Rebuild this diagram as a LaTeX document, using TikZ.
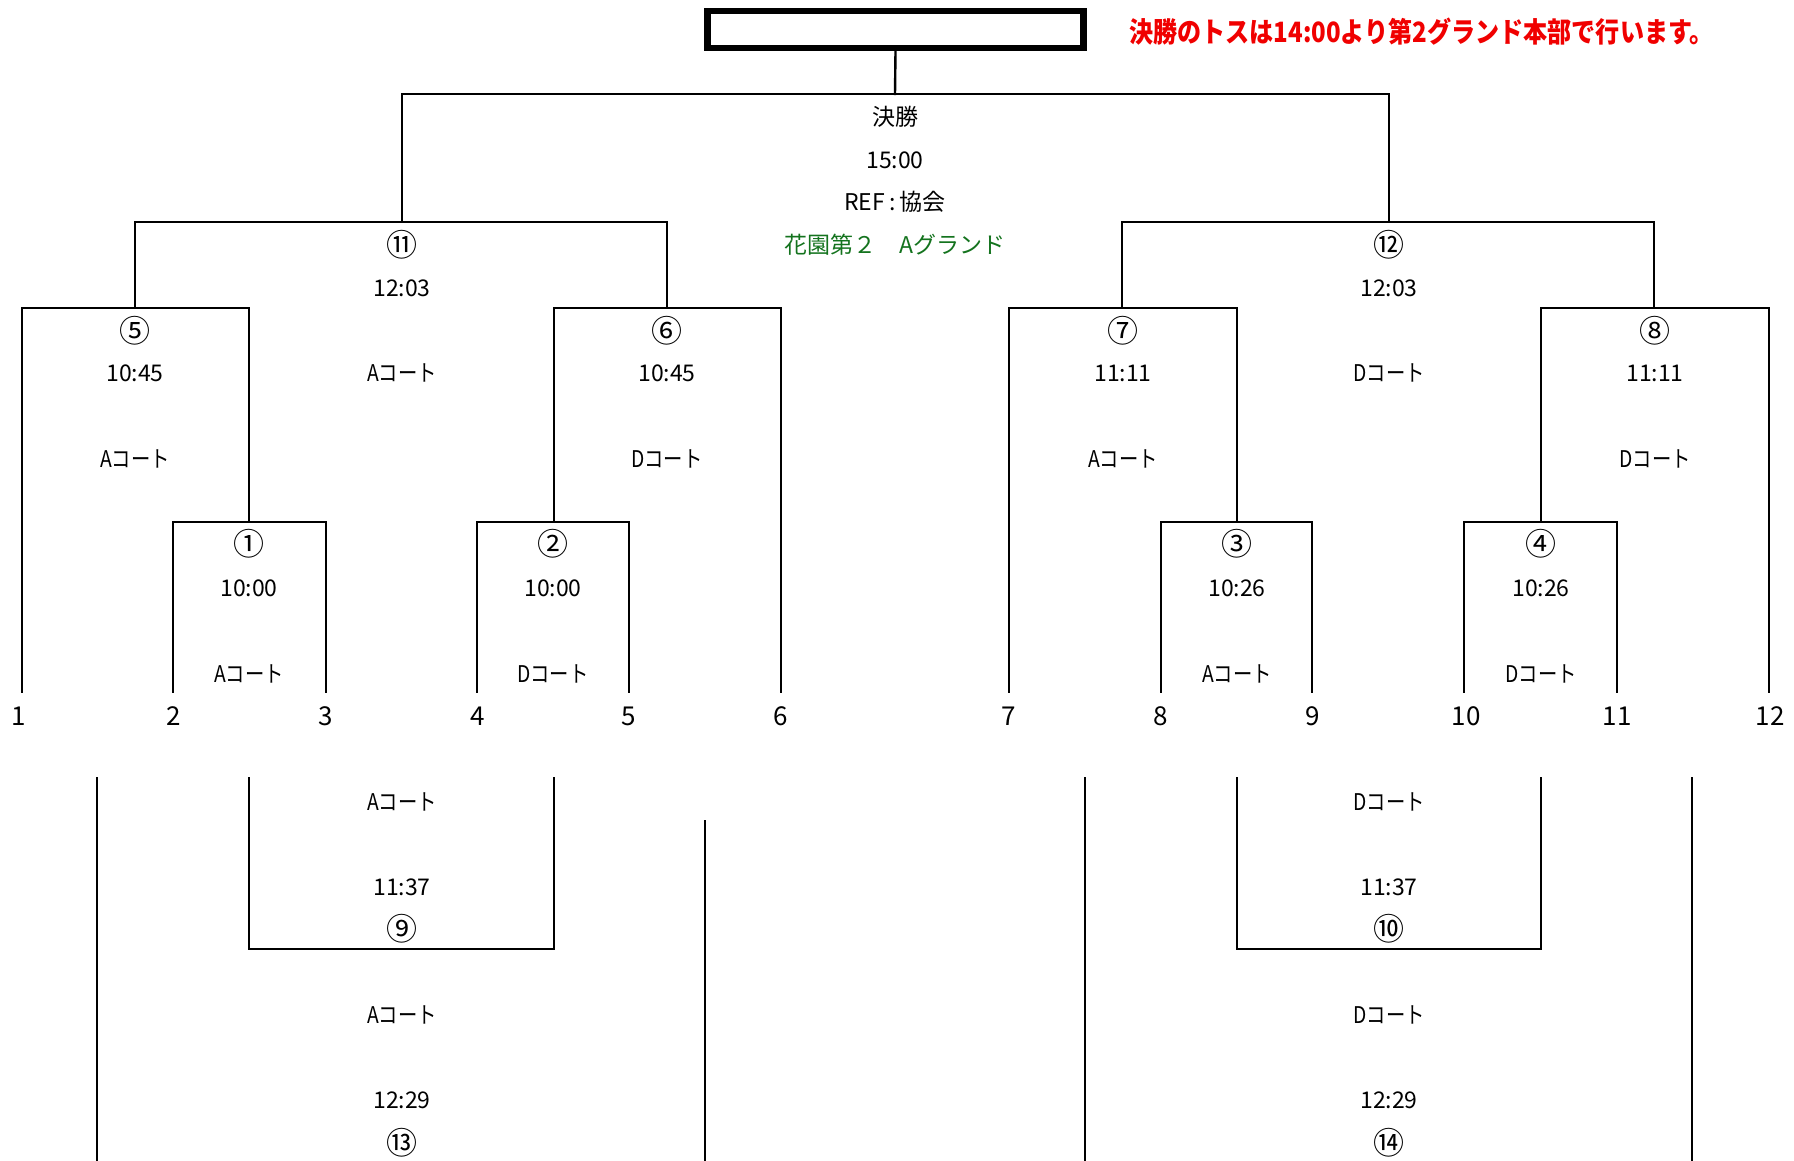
\documentclass[tikz,border=0pt]{standalone}
\usepackage{fontspec}
\setmainfont{Noto Sans CJK JP}
\definecolor{redtxt}{RGB}{240,0,0}
\definecolor{greentxt}{RGB}{20,115,30}
\begin{document}
\begin{tikzpicture}[x=0.5pt,y=-0.5pt,
  ln/.style={line width=1.2pt, line cap=rect},
  lbl/.style={font=\fontsize{11.5}{13}\selectfont, inner sep=0pt},
  court/.style={lbl, xscale=0.84},
  circ/.style={font=\fontsize{15.5}{17}\selectfont, inner sep=0pt},
  num/.style={font=\fontsize{13}{15}\selectfont, inner sep=0pt}]
\useasboundingbox (0,0) rectangle (1794,1161);
% top box
\node[draw, line width=3.2pt, minimum width=188pt, minimum height=18.5pt, inner sep=0pt] (champ) at (895.5,29.5) {};
\node[anchor=west, inner sep=0pt, text=redtxt, font=\fontsize{14}{16}\selectfont\bfseries, xscale=0.86] (note) at (1129,32) {決勝のトスは14:00より第2グランド本部で行います。};
\coordinate (f) at (895,94);
% final
\draw[ln] (champ.south) -- (f);
\draw[ln] (402,222) -- (402,94) -- (1389,94) -- (1389,222);
% semis
\draw[ln] (135,308) -- (135,222) -- (667,222) -- (667,308);
\draw[ln] (1122,308) -- (1122,222) -- (1654,222) -- (1654,308);
% quarters
\draw[ln] (22,692) -- (22,308) -- (249,308) -- (249,522);
\draw[ln] (554,522) -- (554,308) -- (781,308) -- (781,692);
\draw[ln] (1009,692) -- (1009,308) -- (1237,308) -- (1237,522);
\draw[ln] (1541,522) -- (1541,308) -- (1769,308) -- (1769,692);
% first round
\draw[ln] (173,692) -- (173,522) -- (326,522) -- (326,692);
\draw[ln] (477,692) -- (477,522) -- (629,522) -- (629,692);
\draw[ln] (1161,692) -- (1161,522) -- (1312,522) -- (1312,692);
\draw[ln] (1464,692) -- (1464,522) -- (1617,522) -- (1617,692);
% bottom lines
\draw[ln] (97,778) -- (97,1161);
\draw[ln] (249,778) -- (249,949) -- (554,949) -- (554,778);
\draw[ln] (705,821) -- (705,1161);
\draw[ln] (1085,778) -- (1085,1161);
\draw[ln] (1237,778) -- (1237,949) -- (1541,949) -- (1541,778);
\draw[ln] (1692,778) -- (1692,1161);
% final texts
\node[lbl] (fa) at (895,117) {決勝};
\node[lbl] (fb) at (895,160) {15:00};
\node[lbl] (fc) at (895,202) {REF\kern2pt:\kern2pt 協会};
\node[lbl, text=greentxt] (fd) at (895,245) {花園第２　Aグランド};
% semi texts
\node[circ] (s11a) at (402,245) {⑪};
\node[lbl] (s11b) at (402,288) {12:03};
\node[court] (s11c) at (402,373) {Aコート};
\node[circ] (s12a) at (1389,245) {⑫};
\node[lbl] (s12b) at (1389,288) {12:03};
\node[court] (s12c) at (1389,373) {Dコート};
% quarter texts
\node[circ] (q5a) at (135,331) {⑤};
\node[lbl] (q5b) at (135,373) {10:45};
\node[court] (q5c) at (135,459) {Aコート};
\node[circ] (q6a) at (667,331) {⑥};
\node[lbl] (q6b) at (667,373) {10:45};
\node[court] (q6c) at (667,459) {Dコート};
\node[circ] (q7a) at (1123,331) {⑦};
\node[lbl] (q7b) at (1123,373) {11:11};
\node[court] (q7c) at (1123,459) {Aコート};
\node[circ] (q8a) at (1655,331) {⑧};
\node[lbl] (q8b) at (1655,373) {11:11};
\node[court] (q8c) at (1655,459) {Dコート};
% first round texts
\node[circ] (r1a) at (249,544) {①};
\node[lbl] (r1b) at (249,588) {10:00};
\node[court] (r1c) at (249,674) {Aコート};
\node[circ] (r2a) at (553,544) {②};
\node[lbl] (r2b) at (553,588) {10:00};
\node[court] (r2c) at (553,674) {Dコート};
\node[circ] (r3a) at (1237,544) {③};
\node[lbl] (r3b) at (1237,588) {10:26};
\node[court] (r3c) at (1237,674) {Aコート};
\node[circ] (r4a) at (1541,544) {④};
\node[lbl] (r4b) at (1541,588) {10:26};
\node[court] (r4c) at (1541,674) {Dコート};
% team numbers
\node[num] (n1) at (19,716) {1};
\node[num] (n2) at (174,716) {2};
\node[num] (n3) at (326,716) {3};
\node[num] (n4) at (478,716) {4};
\node[num] (n5) at (629,716) {5};
\node[num] (n6) at (781,716) {6};
\node[num] (n7) at (1009,716) {7};
\node[num] (n8) at (1161,716) {8};
\node[num] (n9) at (1313,716) {9};
\node[num] (n10) at (1466,716) {10};
\node[num] (n11) at (1617,716) {11};
\node[num] (n12) at (1770,716) {12};
% bottom texts left
\node[court] (b9a) at (402,802) {Aコート};
\node[lbl] (b9b) at (402,887) {11:37};
\node[circ] (b9c) at (402,929) {⑨};
\node[court] (b13a) at (402,1015) {Aコート};
\node[lbl] (b13b) at (402,1100) {12:29};
\node[circ] (b13c) at (402,1143) {⑬};
% bottom texts right
\node[court] (b10a) at (1389,802) {Dコート};
\node[lbl] (b10b) at (1389,887) {11:37};
\node[circ] (b10c) at (1389,929) {⑩};
\node[court] (b14a) at (1389,1015) {Dコート};
\node[lbl] (b14b) at (1389,1100) {12:29};
\node[circ] (b14c) at (1389,1143) {⑭};
\end{tikzpicture}
\end{document}
